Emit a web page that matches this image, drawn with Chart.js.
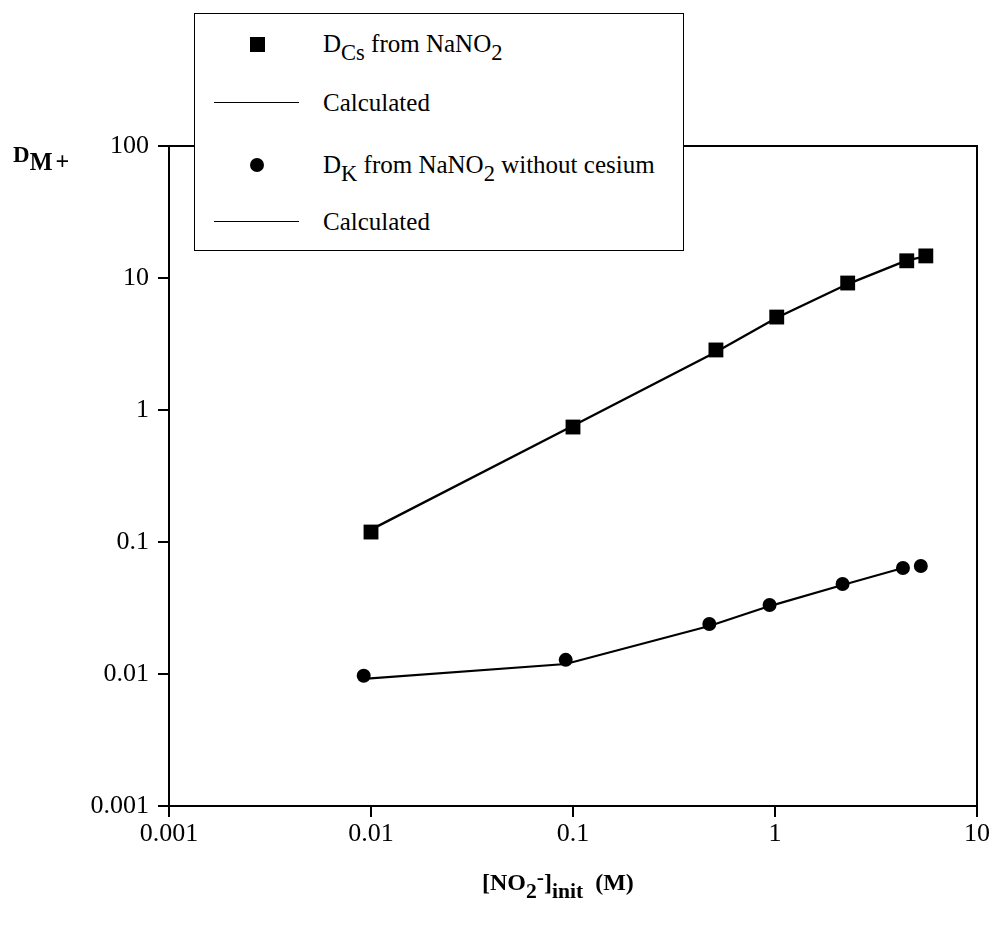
<!DOCTYPE html>
<html>
<head>
<meta charset="utf-8">
<script src="https://cdn.jsdelivr.net/npm/chart.js@4/dist/chart.umd.min.js"></script>
<style>
  html, body { margin: 0; padding: 0; background: #fff; }
  #wrap { position: relative; width: 993px; height: 936px; font-family: "Liberation Serif", "Times New Roman", serif; color: #000; }
  #chart { position: absolute; left: 0; top: 0; }
  .lbl { position: absolute; white-space: nowrap; line-height: 1; }
  .lbl sub { font-size: 0.9em; vertical-align: -0.35em; line-height: 0; }
  .lbl sup { font-size: 0.9em; vertical-align: 0.3em; line-height: 0; }
  #legend { position: absolute; left: 194px; top: 13px; width: 488px; height: 236px; border: 1.5px solid #000; background: #fff; }
  .row { position: absolute; left: 0; height: 26px; width: 100%; font-size: 25px; line-height: 26px; }
  .row .txt { position: absolute; left: 128px; top: 0; white-space: nowrap; }
  .row .txt sub { font-size: 0.9em; vertical-align: -0.35em; line-height: 0; }
  .sq { position: absolute; left: 55px; top: 6px; width: 15px; height: 15px; background: #000; }
  .dot { position: absolute; left: 55px; top: 6px; width: 14px; height: 14px; border-radius: 50%; background: #000; }
  .ln { position: absolute; left: 19px; top: 12px; width: 85px; height: 0; border-top: 1.5px solid #000; }
</style>
</head>
<body>
<div id="wrap">
  <canvas id="chart" width="993" height="936"></canvas>

  <div id="legend">
    <div class="row" style="top:17px"><span class="sq"></span><span class="txt">D<sub>Cs</sub> from NaNO<sub>2</sub></span></div>
    <div class="row" style="top:76px"><span class="ln"></span><span class="txt">Calculated</span></div>
    <div class="row" style="top:138px"><span class="dot"></span><span class="txt">D<sub>K</sub> from NaNO<sub>2</sub> without cesium</span></div>
    <div class="row" style="top:195px"><span class="ln"></span><span class="txt">Calculated</span></div>
  </div>

  <div class="lbl" style="left:13px; top:143px; font-size:23px; font-weight:bold;">D<sub style="font-size:1.05em; letter-spacing:3px">M+</sub></div>
  <div class="lbl" style="left:482px; top:870px; font-size:24px; font-weight:bold;">[NO<sub>2</sub><sup>-</sup>]<sub>init</sub>&nbsp; (M)</div>
</div>

<script>
// axis ticks
var xTicks = [0.001, 0.01, 0.1, 1, 10];
var yTicks = [0.001, 0.01, 0.1, 1, 10, 100];

// D_Cs from NaNO2 (squares) and calculated curve
var csConc = [0.01, 0.1, 0.51, 1.02, 2.29, 4.49, 5.58];
var csMeasured = [0.119, 0.743, 2.85, 5.06, 9.16, 13.5, 14.7];
var csCalcConc = [0.01, 0.1, 0.51, 1.02, 2.29, 4.49, 5.58];
var csCalculated = [0.124, 0.76, 2.75, 5.0, 9.0, 13.6, 14.6];

// D_K from NaNO2 without cesium (circles) and calculated curve
var kConc = [0.0092, 0.092, 0.473, 0.94, 2.16, 4.3, 5.27];
var kMeasured = [0.0097, 0.0128, 0.0239, 0.0333, 0.0481, 0.0635, 0.0658];
var kCalcConc = [0.0092, 0.092, 0.473, 0.94, 2.16, 4.3];
var kCalculated = [0.0092, 0.0119, 0.0231, 0.0327, 0.0472, 0.0635];

function toPoints(xs, ys) {
    var pts = [];
    for (var i = 0; i < xs.length; i++) {
        pts.push({ x: xs[i], y: ys[i] });
    }
    return pts;
}

var frame = {
    id: "frame",
    afterDraw: function(chart) {
        var a = chart.chartArea;
        var ctx = chart.ctx;
        ctx.save();
        ctx.strokeStyle = "#000";
        ctx.lineWidth = 2;
        ctx.strokeRect(a.left, a.top, a.right - a.left, a.bottom - a.top);
        ctx.restore();
    }
};

var tickFont = { family: "'Liberation Serif', 'Times New Roman', serif", size: 26 };

function axis(min, max, ticks, pad, fitFn) {
    return {
        type: "logarithmic",
        min: min,
        max: max,
        afterBuildTicks: function(scale) {
            scale.ticks = ticks.map(function(v) { return { value: v }; });
        },
        afterFit: fitFn,
        ticks: {
            color: "#000",
            font: tickFont,
            padding: pad,
            autoSkip: false,
            maxRotation: 0,
            callback: function(value) { return String(value); }
        },
        grid: {
            display: true,
            drawOnChartArea: false,
            drawTicks: true,
            tickLength: 11,
            color: "#000",
            lineWidth: 2
        },
        border: { display: true, color: "#000", width: 2 }
    };
}

new Chart(document.getElementById("chart"), {
    type: "scatter",
    data: {
        datasets: [
            {
                label: "Calculated Cs",
                data: toPoints(csCalcConc, csCalculated),
                showLine: true,
                borderColor: "#000",
                borderWidth: 2.4,
                pointRadius: 0,
                tension: 0
            },
            {
                label: "Calculated K",
                data: toPoints(kCalcConc, kCalculated),
                showLine: true,
                borderColor: "#000",
                borderWidth: 2.2,
                pointRadius: 0,
                tension: 0
            },
            {
                label: "D_Cs from NaNO2",
                data: toPoints(csConc, csMeasured),
                showLine: false,
                pointStyle: "rect",
                pointRadius: 10.5,
                backgroundColor: "#000",
                borderWidth: 0
            },
            {
                label: "D_K from NaNO2 without cesium",
                data: toPoints(kConc, kMeasured),
                showLine: false,
                pointStyle: "circle",
                pointRadius: 7,
                backgroundColor: "#000",
                borderWidth: 0
            }
        ]
    },
    options: {
        responsive: false,
        animation: false,
        layout: { padding: { top: 146, right: 16, bottom: 80, left: 0 } },
        plugins: {
            legend: { display: false },
            tooltip: { enabled: false }
        },
        scales: {
            x: axis(0.001, 10, xTicks, 2, function(scale) { scale.height = 50; }),
            y: axis(0.001, 100, yTicks, 9, function(scale) { scale.width = 169; })
        }
    },
    plugins: [frame]
});
</script>
</body>
</html>
